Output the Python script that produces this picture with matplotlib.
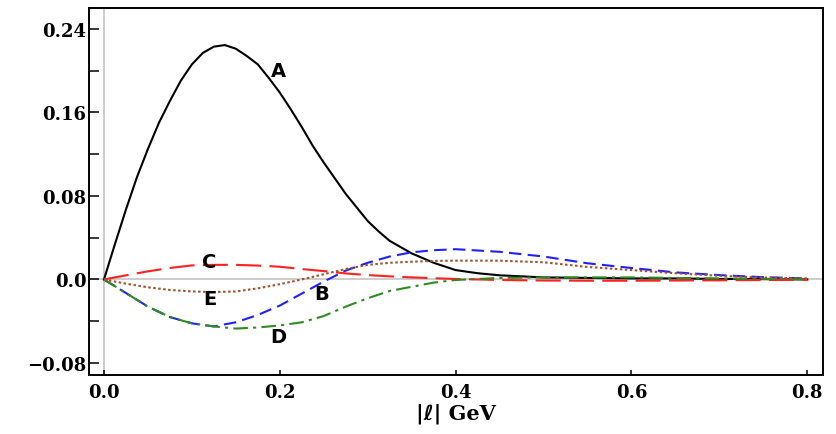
import numpy as np
import matplotlib
matplotlib.use("Agg")
import matplotlib.pyplot as plt
from matplotlib.ticker import FixedLocator, FixedFormatter

# valeurs
x_A = [0.0, 0.0125, 0.025, 0.0375, 0.05, 0.0625, 0.075, 0.0875, 0.1, 0.1125,
       0.125, 0.1375, 0.15, 0.1625, 0.175, 0.1875, 0.2, 0.2125, 0.225,
       0.2375, 0.25, 0.2625, 0.275, 0.2875, 0.3, 0.3125, 0.325, 0.3375,
       0.35, 0.375, 0.4, 0.425, 0.45, 0.5, 0.55, 0.6, 0.65, 0.7, 0.75, 0.8]
curve_A = [0.0, 0.034, 0.067, 0.098, 0.125, 0.150, 0.171, 0.1905, 0.206,
           0.217, 0.223, 0.2245, 0.221, 0.214, 0.206, 0.193, 0.179, 0.163,
           0.146, 0.128, 0.112, 0.097, 0.082, 0.069, 0.056, 0.046, 0.037,
           0.031, 0.025, 0.016, 0.009, 0.006, 0.004, 0.002, 0.0015, 0.001,
           0.001, 0.0005, 0.0003, 0.0]

x = [0.0, 0.025, 0.05, 0.075, 0.1, 0.125, 0.15, 0.175, 0.2, 0.225, 0.25,
     0.275, 0.3, 0.325, 0.35, 0.375, 0.4, 0.45, 0.5, 0.55, 0.6, 0.65, 0.7,
     0.75, 0.8]
curve_B = [0.0, -0.013, -0.026, -0.036, -0.042, -0.045, -0.041, -0.034,
           -0.025, -0.0135, -0.002, 0.0085, 0.016, 0.022, 0.026, 0.028,
           0.029, 0.0265, 0.022, 0.0155, 0.011, 0.0068, 0.0042, 0.0022, 0.001]
curve_C = [0.0, 0.004, 0.0078, 0.011, 0.0135, 0.014, 0.014, 0.0133, 0.0122,
           0.010, 0.008, 0.0058, 0.0042, 0.003, 0.002, 0.0012, 0.0005,
           -0.0005, -0.001, -0.0012, -0.0012, -0.001, -0.0008, -0.0005, -0.0003]
curve_D = [0.0, -0.013, -0.026, -0.036, -0.042, -0.045, -0.047, -0.046,
           -0.044, -0.041, -0.035, -0.026, -0.018, -0.011, -0.007, -0.003,
           -0.0005, 0.0015, 0.002, 0.002, 0.002, 0.0015, 0.001, 0.0006, 0.0003]
curve_E = [0.0, -0.004, -0.0075, -0.010, -0.0115, -0.012, -0.0115, -0.0085,
           -0.0045, 0.0, 0.005, 0.010, 0.014, 0.016, 0.017, 0.0178, 0.018,
           0.018, 0.0165, 0.012, 0.009, 0.006, 0.0035, 0.0018, 0.001]

labels = ["A", "B", "C", "D", "E"]
label_x = [0.198, 0.248, 0.120, 0.198, 0.120]
label_y = [0.200, -0.0134, 0.017, -0.0546, -0.018]

xticks = [0.0, 0.2, 0.4, 0.6, 0.8]
xtick_labels = ["0.0", "0.2", "0.4", "0.6", "0.8"]
yticks = [-0.08, 0.0, 0.08, 0.16, 0.24]
ytick_labels = ["\u22120.08", "0.0", "0.08", "0.16", "0.24"]
yminor = [-0.04, 0.04, 0.12, 0.2]

fig = plt.figure(figsize=(8.36, 4.35), dpi=100)
ax = fig.add_axes([0.1065, 0.1356, 0.878, 0.8437])

# axes grises de Mathematica
ax.axhline(0, color="#c8c8c8", lw=1.3, zorder=1)
ax.axvline(0, color="#c8c8c8", lw=1.3, zorder=1)

style = dict(lw=1.5, zorder=3, solid_joinstyle="round", dash_joinstyle="round")
ax.plot(x_A, curve_A, color="black", **style)
ax.plot(x, curve_B, color="#2020ff", dashes=(6, 3), **style)
ax.plot(x, curve_C, color="#ff2020", dashes=(12, 4), **style)
ax.plot(x, curve_D, color="#2e8b22", dashes=(7, 2.5, 1.5, 2.5), **style)
ax.plot(x, curve_E, color="#a0522d", dashes=(1.2, 1.2), **style)

for lab, lx, ly in zip(labels, label_x, label_y):
    ax.text(lx, ly, lab, ha="center", va="center", fontsize=14,
            fontweight="bold", family="DejaVu Sans", color="black", zorder=4)

ax.set_xlim(-0.017, 0.818)
ax.set_ylim(-0.0915, 0.260)

ax.xaxis.set_major_locator(FixedLocator(xticks))
ax.xaxis.set_major_formatter(FixedFormatter(xtick_labels))
ax.yaxis.set_major_locator(FixedLocator(yticks))
ax.yaxis.set_major_formatter(FixedFormatter(ytick_labels))
ax.yaxis.set_minor_locator(FixedLocator(yminor))

ax.tick_params(axis="y", which="both", direction="in", length=7, width=1.1,
               right=False, pad=2)
ax.tick_params(axis="x", which="both", direction="in", length=3.5, width=1.1,
               top=False, pad=6)
for lbl in ax.get_xticklabels() + ax.get_yticklabels():
    lbl.set_family("DejaVu Serif")
    lbl.set_fontweight("bold")
    lbl.set_fontsize(13)

for sp in ax.spines.values():
    sp.set_linewidth(1.4)

ax.set_xlabel("|ℓ| GeV", family=["DejaVu Serif", "DejaVu Sans"],
              fontweight="bold", fontsize=15, labelpad=1)

fig.savefig("out.png", dpi=100)
